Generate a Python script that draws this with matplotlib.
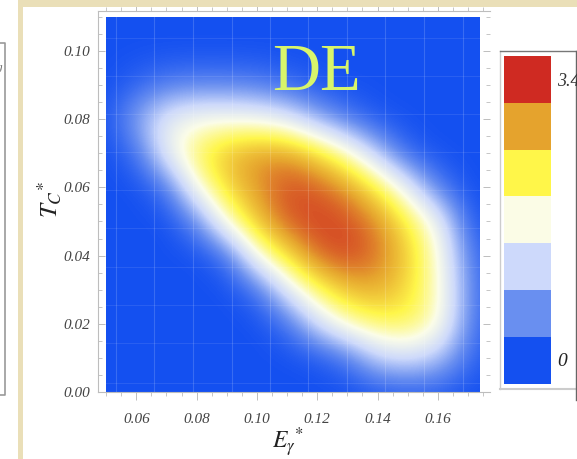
import matplotlib
matplotlib.use('Agg')
import matplotlib.pyplot as plt
from matplotlib.colors import LinearSegmentedColormap
from matplotlib.patches import Rectangle
import numpy as np

W, H = 577, 459

# grid, in colour bands (0 = blue ... 6 = red)
e_vals = [0.05, 0.06, 0.07, 0.08, 0.09, 0.10, 0.11, 0.12, 0.13, 0.14, 0.15, 0.16, 0.17, 0.18]
t_vals = [0.00, 0.01, 0.02, 0.03, 0.04, 0.05, 0.06, 0.07, 0.08, 0.09, 0.10, 0.11]
bands = [
    [0, 0, 0, 0, 0, 0, 0, 0, 0, 0.1, 0.2, 0.2, 0, 0],
    [0, 0, 0, 0, 0, 0, 0, 0.1, 0.6, 1.9, 2.2, 1.7, 0.5, 0],
    [0, 0, 0, 0, 0, 0, 0.5, 2.1, 3.3, 3.8, 3.9, 3.2, 0.9, 0],
    [0, 0, 0, 0, 0, 0.5, 2.4, 3.9, 4.7, 4.9, 4.3, 3.2, 1.0, 0],
    [0, 0, 0, 0, 0.5, 3.0, 4.4, 5.5, 5.8, 5.4, 4.5, 3.1, 0.8, 0],
    [0, 0, 0, 0.9, 3.2, 4.7, 5.6, 5.8, 5.7, 5.2, 4.1, 2.7, 0.3, 0],
    [0, 0, 0.6, 3.0, 4.4, 5.1, 5.7, 5.6, 5.1, 4.1, 2.5, 0.7, 0, 0],
    [0, 0.5, 2.6, 3.9, 4.7, 5.1, 5.1, 4.4, 3.3, 1.7, 0.3, 0, 0, 0],
    [0.1, 1.3, 2.5, 2.9, 2.9, 2.8, 2.4, 1.4, 0.6, 0.1, 0, 0, 0, 0],
    [0, 0.3, 0.7, 0.8, 0.8, 0.7, 0.4, 0.1, 0, 0, 0, 0, 0, 0],
    [0, 0, 0, 0, 0, 0, 0, 0, 0, 0, 0, 0, 0, 0],
    [0, 0, 0, 0, 0, 0, 0, 0, 0, 0, 0, 0, 0, 0],
]
band_colors = ['#1450f0', '#6b90f0', '#cdd9fb', '#fbfde8', '#fff64a', '#e6a52e', '#cf2a22']
x_ticks = [0.06, 0.08, 0.10, 0.12, 0.14, 0.16]
y_ticks = [0.00, 0.02, 0.04, 0.06, 0.08, 0.10]

SERIF = 'Liberation Serif'
GREY = '#bdbdbd'

plt.rcParams['mathtext.fontset'] = 'stix'
plt.rcParams['hatch.linewidth'] = 0.8
plt.rcParams['hatch.color'] = (1, 1, 1, 0.07)

fig = plt.figure(figsize=(W / 100, H / 100), dpi=100, facecolor='white')

def px_rect(x0, y0, x1, y1):
    # pixel box (y down) -> figure fractions
    return [x0 / W, 1 - y1 / H, (x1 - x0) / W, (y1 - y0) / H]

# beige slide border
beige = '#eadfb8'
for r in [(18, 0, 577, 7), (18, 0, 23, 459)]:
    b = px_rect(*r)
    fig.add_artist(Rectangle((b[0], b[1]), b[2], b[3], transform=fig.transFigure,
                             fc=beige, ec='none'))

# bit of the neighbouring panel on the left
fig.add_artist(plt.Line2D([0, 5 / W, 5 / W, 0],
                          [1 - 43 / H, 1 - 43 / H, 1 - 395 / H, 1 - 395 / H],
                          color='#999999', lw=1.2))
fig.text(0 / W, 1 - 68 / H, 'g', family=SERIF, style='italic', fontsize=8,
         color='#666666', ha='center', va='center')

ax = fig.add_axes(px_rect(98, 11, 490, 392))
cmap = LinearSegmentedColormap.from_list('de', band_colors)
im = ax.imshow(np.array(bands), origin='lower',
               extent=(e_vals[0] - 0.005, e_vals[-1] + 0.005, t_vals[0] - 0.005, t_vals[-1] + 0.005),
               cmap=cmap, vmin=0, vmax=6, interpolation='bicubic', aspect='auto')
clip = Rectangle((0.05, 0), 0.1237, 0.11, transform=ax.transData, fc='none', ec='none', hatch='///')
ax.add_patch(clip)
im.set_clip_path(clip)
ax.set_xlim(0.0473, 0.1773)
ax.set_ylim(0, 0.1117)

# faint scan lines over the image
for e in [0.0533, 0.066, 0.0788, 0.0916, 0.1043, 0.1171, 0.1299, 0.1426, 0.1554, 0.1682]:
    ax.plot([e, e], [0, 0.11], color='white', lw=0.8, alpha=0.16)
for t in [0.0026, 0.0144, 0.0255, 0.0367, 0.0481, 0.0592, 0.0704, 0.0815, 0.0927, 0.1038]:
    ax.plot([0.05, 0.1737], [t, t], color='white', lw=0.8, alpha=0.09)

ax.spines['right'].set_visible(False)
for s in ['left', 'top', 'bottom']:
    ax.spines[s].set_color(GREY)
    ax.spines[s].set_linewidth(0.8)

ax.set_xticks(x_ticks)
ax.set_yticks(y_ticks)
ax.set_xticks(np.arange(0.05, 0.1751, 0.005), minor=True)
ax.set_yticks(np.arange(0, 0.1101, 0.005), minor=True)
ax.tick_params(axis='x', which='major', direction='out', length=6, width=0.7, color=GREY, pad=9, top=True)
ax.tick_params(axis='x', which='minor', direction='out', length=3, width=0.6, color=GREY, top=True)
ax.tick_params(axis='y', which='major', direction='in', length=5, width=0.7, color=GREY, pad=6, right=True)
ax.tick_params(axis='y', which='minor', direction='in', length=3, width=0.6, color=GREY, right=True)
ax.set_xticklabels(['%.2f' % v for v in x_ticks], family=SERIF, style='italic', fontsize=11, color='#444444')
ax.set_yticklabels(['%.2f' % v for v in y_ticks], family=SERIF, style='italic', fontsize=11, color='#444444')

fig.text(288 / W, 1 - 442 / H, r'$E_{\gamma}{}^{*}$', fontsize=17, color='#222222', ha='center', va='center')
fig.text(50 / W, 1 - 200 / H, r'$T_{C}{}^{*}$', fontsize=18, color='#222222', rotation=90, ha='center', va='center')
fig.text(316 / W, 1 - 73 / H, 'DE', family=SERIF, fontsize=48, color='#d8f56a', ha='center', va='center')

# colour legend frame
fig.add_artist(plt.Line2D([500 / W, 500 / W], [1 - 389 / H, 1 - 51 / H], color='#cccccc', lw=1))
fig.add_artist(plt.Line2D([500 / W, 576 / W], [1 - 51 / H, 1 - 51 / H], color='#777777', lw=1))
fig.add_artist(plt.Line2D([500 / W, 576 / W], [1 - 389 / H, 1 - 389 / H], color='#cccccc', lw=1.5))
fig.add_artist(plt.Line2D([576 / W, 576 / W], [1 - 51 / H, 1 - 400 / H], color='#666666', lw=1))

cax = fig.add_axes(px_rect(504, 56, 551, 384))
cax.imshow(np.arange(len(band_colors))[::-1].reshape(-1, 1), cmap=cmap, aspect='auto', interpolation='nearest')
cax.axis('off')
fig.text(557 / W, 1 - 82 / H, '3.4', family=SERIF, style='italic', fontsize=13, color='#333333', va='center')
fig.text(557 / W, 1 - 361 / H, '0', family=SERIF, style='italic', fontsize=14, color='#222222', va='center')

fig.savefig('out.png', dpi=100)
